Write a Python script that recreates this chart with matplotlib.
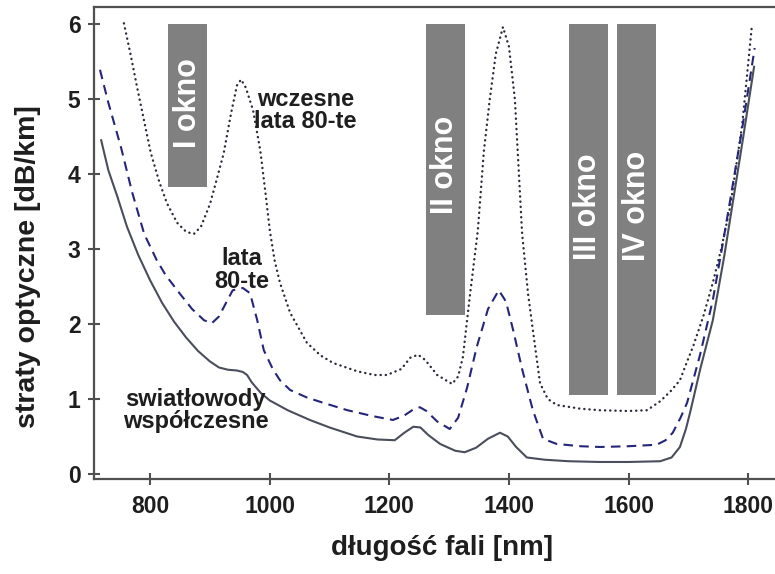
import matplotlib
matplotlib.use("Agg")
from matplotlib import pyplot as plt
from matplotlib.patches import Rectangle

plt.rcParams['font.family'] = ['Liberation Sans', 'DejaVu Sans']
plt.rcParams['font.weight'] = 'bold'

# wavelength [nm] / attenuation [dB/km] read per fibre generation
nowe_x = [718, 730, 745, 761, 780, 800, 820, 840, 860, 880, 900, 915, 930, 945,
          955, 962, 970, 985, 1000, 1030, 1067, 1100, 1146, 1180, 1209, 1225,
          1240, 1252, 1265, 1285, 1310, 1326, 1345, 1365, 1385, 1398, 1412,
          1430, 1460, 1500, 1552, 1600, 1653, 1672, 1686, 1696, 1703, 1720,
          1741, 1760, 1775, 1792, 1810]
nowe_y = [4.45, 4.05, 3.7, 3.3, 2.92, 2.58, 2.28, 2.03, 1.82, 1.64, 1.5, 1.42,
          1.39, 1.38, 1.36, 1.32, 1.22, 1.08, 0.98, 0.85, 0.72, 0.62, 0.5,
          0.46, 0.45, 0.55, 0.63, 0.62, 0.52, 0.4, 0.31, 0.29, 0.35, 0.47,
          0.55, 0.5, 0.36, 0.22, 0.19, 0.17, 0.16, 0.16, 0.17, 0.22, 0.36,
          0.6, 0.82, 1.4, 2.05, 2.9, 3.65, 4.5, 5.43]

lata80_x = [716, 730, 751, 770, 790, 811, 826, 850, 870, 890, 903, 915, 928,
            938, 955, 967, 979, 990, 1005, 1017, 1034, 1062, 1089, 1130, 1173,
            1206, 1225, 1240, 1251, 1262, 1280, 1301, 1315, 1330, 1346, 1365,
            1383, 1395, 1407, 1422, 1440, 1457, 1480, 1520, 1552, 1600, 1647,
            1662, 1674, 1687, 1698, 1720, 1741, 1755, 1770, 1790, 1811]
lata80_y = [5.39, 4.95, 4.36, 3.75, 3.2, 2.85, 2.65, 2.4, 2.2, 2.05, 2.01, 2.1,
            2.3, 2.45, 2.48, 2.41, 2.05, 1.65, 1.4, 1.25, 1.12, 1.02, 0.95,
            0.85, 0.77, 0.72, 0.78, 0.86, 0.89, 0.84, 0.7, 0.6, 0.75, 1.15,
            1.69, 2.2, 2.45, 2.3, 1.92, 1.4, 0.85, 0.47, 0.4, 0.37, 0.36, 0.37,
            0.39, 0.45, 0.55, 0.75, 0.95, 1.6, 2.32, 2.95, 3.65, 4.6, 5.68]

wczesne_x = [756, 767, 778, 790, 801, 815, 828, 845, 860, 873, 885, 900, 912,
             923, 935, 945, 952, 960, 972, 984, 992, 1000, 1008, 1017, 1034,
             1062, 1085, 1106, 1146, 1175, 1196, 1220, 1235, 1248, 1260, 1280,
             1305, 1315, 1323, 1335, 1348, 1358, 1368, 1378, 1390, 1400, 1410,
             1422, 1432, 1440, 1452, 1465, 1480, 1520, 1552, 1600, 1631, 1653,
             1670, 1686, 1698, 1708, 1725, 1741, 1755, 1770, 1790, 1806]
wczesne_y = [6.01, 5.6, 5.16, 4.7, 4.28, 3.9, 3.61, 3.35, 3.23, 3.2, 3.3, 3.6,
             3.95, 4.28, 4.8, 5.18, 5.26, 5.15, 4.85, 4.32, 3.8, 3.25, 2.85,
             2.55, 2.15, 1.75, 1.58, 1.48, 1.37, 1.32, 1.32, 1.4, 1.55, 1.59,
             1.52, 1.32, 1.2, 1.3, 1.56, 2.4, 3.25, 4.3, 5.0, 5.6, 5.96, 5.7,
             4.99, 3.21, 2.4, 1.92, 1.21, 1.0, 0.92, 0.87, 0.85, 0.84, 0.85,
             0.97, 1.1, 1.25, 1.5, 1.7, 2.1, 2.55, 3.0, 3.56, 4.65, 5.95]

# transmission windows: label, start, end, lower edge, top edge
okna = ['I okno', 'II okno', 'III okno', 'IV okno']
okna_od = [830, 1261, 1500, 1581]
okna_do = [895, 1326, 1566, 1646]
okna_dol = [3.83, 2.12, 1.05, 1.05]
okna_gora = [6.0, 6.0, 6.0, 6.0]
okna_tekst_y = [4.95, 4.12, 3.57, 3.57]

x_ticks = [800, 1000, 1200, 1400, 1600, 1800]
y_ticks = [0, 1, 2, 3, 4, 5, 6]

fig = plt.figure(figsize=(7.75, 5.74), dpi=100)
ax = fig.add_axes([0.1213, 0.1655, 0.8787, 0.8223])

for nazwa, x0, x1, y0, y1, ty in zip(okna, okna_od, okna_do, okna_dol,
                                     okna_gora, okna_tekst_y):
    ax.add_patch(Rectangle((x0, y0), x1 - x0, y1 - y0,
                           facecolor='#808080', edgecolor='none', zorder=1))
    ax.text((x0 + x1) / 2, ty, nazwa, rotation=90, color='white',
            fontsize=22, fontweight='bold', ha='center', va='center',
            zorder=2)

ax.plot(wczesne_x, wczesne_y, color='#2a2a3a', lw=1.7,
        linestyle=(0, (0.1, 2.1)), dash_capstyle='round', zorder=3)
ax.plot(lata80_x, lata80_y, color='#25267a', lw=1.5,
        linestyle=(0, (4.6, 3.0)), zorder=3)
ax.plot(nowe_x, nowe_y, color='#4a4e5c', lw=1.5, zorder=3)

txt = dict(fontsize=17, fontweight='bold', color='#1e1e1e',
           ha='center', va='center', linespacing=0.95, zorder=4)
ax.text(1060, 4.85, 'wczesne\nlata 80-te', **txt)
ax.text(953, 2.72, 'lata\n80-te', **txt)
ax.text(876, 0.85, 'swiatłowody\nwspółczesne', **txt)

ax.set_xlim(706, 1845)
ax.set_ylim(-0.067, 6.227)
ax.set_xticks(x_ticks)
ax.set_yticks(y_ticks)

for side in ['left', 'bottom', 'top']:
    ax.spines[side].set_color('#505050')
    ax.spines[side].set_linewidth(1.6)
ax.spines['right'].set_visible(False)

ax.tick_params(direction='inout', length=8.6, width=1.5, color='#505050',
               labelsize=16.5, labelcolor='#1e1e1e')
ax.tick_params(axis='x', pad=7)
ax.tick_params(axis='y', pad=5.5)
for lbl in ax.get_xticklabels() + ax.get_yticklabels():
    lbl.set_fontweight('bold')

ax.set_xlabel('długość fali [nm]', fontsize=20, fontweight='bold',
              color='#1e1e1e', va='center')
ax.xaxis.set_label_coords(0.511, -0.146)
ax.set_ylabel('straty optyczne [dB/km]', fontsize=20.5, fontweight='bold',
              color='#1e1e1e', va='center')
ax.yaxis.set_label_coords(-0.097, 0.451)

fig.savefig('out.png', dpi=100)
